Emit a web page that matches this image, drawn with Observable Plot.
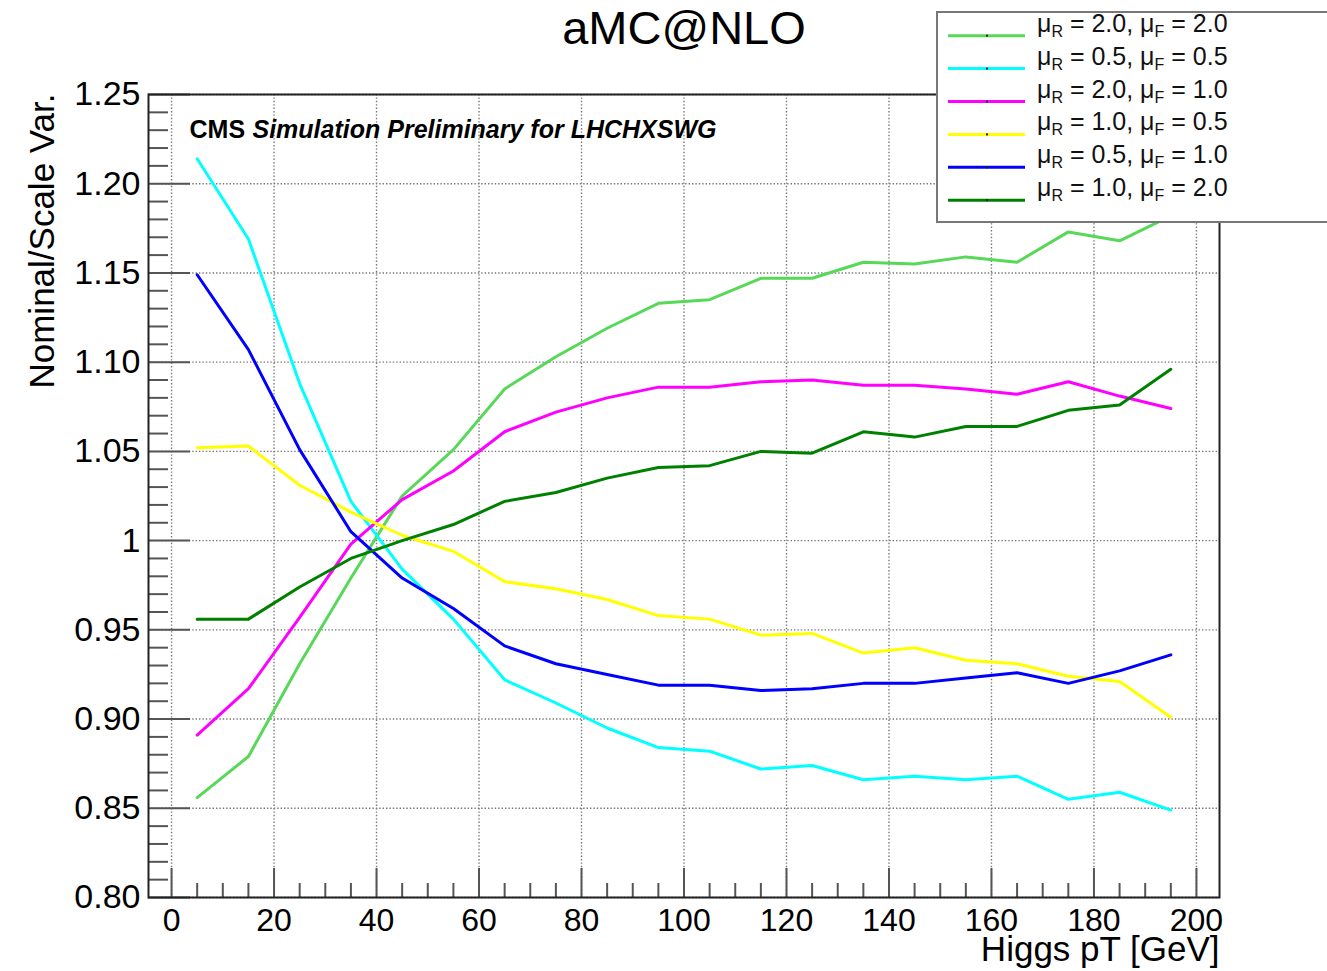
<!DOCTYPE html>
<html>
<head>
<meta charset="utf-8">
<script src="https://cdn.jsdelivr.net/npm/d3@7"></script>
<script src="https://cdn.jsdelivr.net/npm/@observablehq/plot@0.6"></script>
<style>
  html, body { margin: 0; padding: 0; background: #fff; overflow: hidden; }
  #fig { position: relative; width: 1327px; height: 971px; }
  #fig > svg { position: absolute; left: 0; top: 0; }
</style>
</head>
<body>
<div id="fig"></div>
<script>
// Higgs pT bin centres [GeV]
const ptCenters = [5, 15, 25, 35, 45, 55, 65, 75, 85, 95, 105, 115, 125, 135, 145, 155, 165, 175, 185, 195];

// Nominal / scale-varied ratio for each (muR, muF) choice
const ratioR20F20 = [0.856, 0.879, 0.931, 0.979, 1.025, 1.051, 1.085, 1.103, 1.119, 1.133, 1.135, 1.147, 1.147, 1.156, 1.155, 1.159, 1.156, 1.173, 1.168, 1.182];
const ratioR05F05 = [1.214, 1.169, 1.088, 1.022, 0.984, 0.956, 0.922, 0.909, 0.895, 0.884, 0.882, 0.872, 0.874, 0.866, 0.868, 0.866, 0.868, 0.855, 0.859, 0.849];
const ratioR20F10 = [0.891, 0.917, 0.957, 0.998, 1.023, 1.039, 1.061, 1.072, 1.080, 1.086, 1.086, 1.089, 1.090, 1.087, 1.087, 1.085, 1.082, 1.089, 1.081, 1.074];
const ratioR10F05 = [1.052, 1.053, 1.031, 1.016, 1.003, 0.994, 0.977, 0.973, 0.967, 0.958, 0.956, 0.947, 0.948, 0.937, 0.940, 0.933, 0.931, 0.924, 0.921, 0.901];
const ratioR05F10 = [1.149, 1.107, 1.051, 1.005, 0.979, 0.962, 0.941, 0.931, 0.925, 0.919, 0.919, 0.916, 0.917, 0.920, 0.920, 0.923, 0.926, 0.920, 0.927, 0.936];
const ratioR10F20 = [0.956, 0.956, 0.974, 0.990, 1.000, 1.009, 1.022, 1.027, 1.035, 1.041, 1.042, 1.050, 1.049, 1.061, 1.058, 1.064, 1.064, 1.073, 1.076, 1.096];

// Series metadata, in legend order
const muR = ["2.0", "0.5", "2.0", "1.0", "0.5", "1.0"];
const muF = ["2.0", "0.5", "1.0", "0.5", "1.0", "2.0"];
const seriesValues = [ratioR20F20, ratioR05F05, ratioR20F10, ratioR10F05, ratioR05F10, ratioR10F20];
const seriesColors = ["#58d858", "#00ffff", "#ff00ff", "#ffff00", "#0000ff", "#008000"];
const seriesKeys = muR.map((r, i) => `muR=${r}, muF=${muF[i]}`);

// Axis ticks
const xMajor = [0, 20, 40, 60, 80, 100, 120, 140, 160, 180, 200];
const xMinor = d3.range(0, 201, 5).filter(v => v % 20 !== 0);
const yMajor = [0.80, 0.85, 0.90, 0.95, 1.00, 1.05, 1.10, 1.15, 1.20, 1.25];
const yMinor = d3.range(80, 126, 1).filter(v => v % 5 !== 0).map(v => v / 100);

// Text
const titleText = "aMC@NLO";
const xLabel = "Higgs pT [GeV]";
const yLabel = "Nominal/Scale Var.";
const cmsText = "CMS";
const cmsExtra = "Simulation Preliminary for LHCHXSWG";

// Long-format table for Plot
const rows = seriesKeys.flatMap((key, s) =>
  ptCenters.map((pt, i) => ({pt, ratio: seriesValues[s][i], series: key}))
);

const W = 1327, H = 971;
const mL = 148, mR = 108, mT = 94, mB = 74;
const frameW = W - mL - mR, frameH = H - mT - mB;
const font = "'Liberation Sans', Arial, Helvetica, sans-serif";
const tickStroke = "#555";
const gridStyle = {stroke: "#777", strokeOpacity: 1, strokeWidth: 1.4, strokeDasharray: "1.4,2"};

const chart = Plot.plot({
  width: W,
  height: H,
  marginLeft: mL,
  marginRight: mR,
  marginTop: mT,
  marginBottom: mB,
  style: {fontFamily: font, background: "white", color: "black", overflow: "visible"},
  x: {domain: [-4.5, 204.5]},
  y: {domain: [0.80, 1.25]},
  color: {domain: seriesKeys, range: seriesColors},
  marks: [
    Plot.gridX(xMajor, gridStyle),
    Plot.gridY(yMajor, gridStyle),
    // inward tick marks, ROOT style
    Plot.tickX(xMinor, {x: d => d, insetTop: frameH - 14, stroke: tickStroke, strokeWidth: 2}),
    Plot.tickX(xMajor, {x: d => d, insetTop: frameH - 29, stroke: tickStroke, strokeWidth: 2}),
    Plot.tickY(yMinor, {y: d => d, insetRight: frameW - 20, stroke: tickStroke, strokeWidth: 2}),
    Plot.tickY(yMajor, {y: d => d, insetRight: frameW - 42, stroke: tickStroke, strokeWidth: 2}),
    Plot.axisX(xMajor, {tickSize: 0, tickPadding: 11, fontSize: 32, label: null}),
    Plot.axisY(yMajor, {
      tickSize: 0, tickPadding: 8, fontSize: 34, label: null,
      tickFormat: d => Math.abs(d - 1) < 1e-9 ? "1" : d.toFixed(2)
    }),
    Plot.line(rows, {x: "pt", y: "ratio", z: "series", stroke: "series", strokeWidth: 3, strokeLinejoin: "round"}),
    Plot.frame({stroke: "#222", strokeWidth: 2}),
    Plot.text([titleText], {text: d => d, frameAnchor: "top", dy: -51, lineAnchor: "bottom", fontSize: 47, fill: "black"}),
    Plot.text([yLabel], {text: d => d, frameAnchor: "top-left", rotate: -90, textAnchor: "end", lineAnchor: "bottom", dx: -95, dy: -1, fontSize: 35, fill: "black"}),
    Plot.text([xLabel], {text: d => d, frameAnchor: "bottom-right", textAnchor: "end", lineAnchor: "bottom", dx: 0, dy: 63, fontSize: 35, fill: "black"}),
    Plot.text([cmsText], {text: d => d, frameAnchor: "top-left", textAnchor: "start", lineAnchor: "bottom", dx: 41, dy: 43, fontSize: 25, fontWeight: "bold", fill: "black"}),
    Plot.text([cmsExtra], {text: d => d, frameAnchor: "top-left", textAnchor: "start", lineAnchor: "bottom", dx: 104, dy: 43, fontSize: 25, fontWeight: "bold", fontStyle: "italic", fill: "black"})
  ]
});

const fig = document.getElementById("fig");
fig.appendChild(chart);

// Legend box, top right, overlapping the frame corner
const legend = d3.create("svg")
  .attr("width", W).attr("height", H)
  .style("pointer-events", "none")
  .style("font-family", font);
legend.append("rect")
  .attr("x", 937).attr("y", 12).attr("width", 420).attr("height", 210)
  .attr("fill", "white").attr("stroke", "#777").attr("stroke-width", 2);
seriesKeys.forEach((key, i) => {
  const yy = 35.7 + 32.9 * i;
  legend.append("line")
    .attr("x1", 948).attr("x2", 1025).attr("y1", yy).attr("y2", yy)
    .attr("stroke", seriesColors[i]).attr("stroke-width", 3);
  legend.append("rect")
    .attr("x", 986).attr("y", yy - 1).attr("width", 2).attr("height", 2).attr("fill", "#222");
  const t = legend.append("text")
    .attr("x", 1037).attr("y", yy - 4)
    .attr("font-size", 25).attr("fill", "#111");
  t.append("tspan").text("\u03bc");
  t.append("tspan").attr("font-size", 16).attr("dy", 5).text("R");
  t.append("tspan").attr("dy", -5).text(` = ${muR[i]}, \u03bc`);
  t.append("tspan").attr("font-size", 16).attr("dy", 5).text("F");
  t.append("tspan").attr("dy", -5).text(` = ${muF[i]}`);
});
fig.appendChild(legend.node());
</script>
</body>
</html>
